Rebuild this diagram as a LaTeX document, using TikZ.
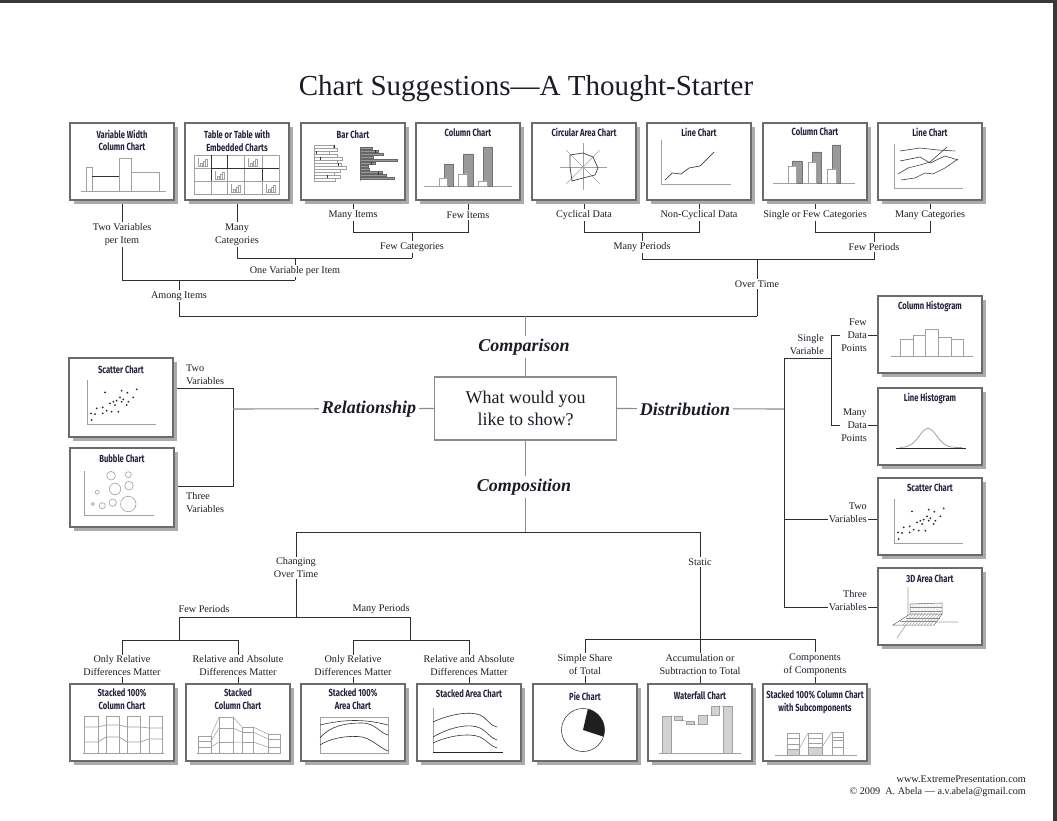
\documentclass[tikz,border=0pt]{standalone}
\usepackage{fontspec}
\setmainfont{Liberation Serif}
\newfontfamily\ctfont[FakeStretch=0.74]{Fira Sans}
\usetikzlibrary{shadows}
\definecolor{txt}{HTML}{1C1C26}
\definecolor{ctc}{HTML}{22223E}
\definecolor{bord}{HTML}{6B6B6B}
\definecolor{shd}{HTML}{ABABAB}
\definecolor{lnk}{HTML}{2E2E2E}
\definecolor{glnk}{HTML}{8C8C8C}
\definecolor{minig}{HTML}{A0A0A0}
\definecolor{edgebar}{HTML}{36383C}
\definecolor{lgfill}{HTML}{D2D2D2}
\definecolor{dgfill}{HTML}{9A9A9A}
\pgfdeclarelayer{bg}
\pgfsetlayers{bg,main}
\tikzset{
 cbox/.style={draw=bord, line width=1.1pt, fill=white, minimum width=104pt, minimum height=77pt, anchor=north west, inner sep=0pt, outer sep=0pt,
   drop shadow={shadow xshift=4pt, shadow yshift=-4pt, fill=shd, opacity=1}},
 ctitle/.style={font=\ctfont\bfseries\fontsize{10.3}{12.8}\selectfont, text=ctc, align=center, inner sep=0pt},
 lab/.style={font=\fontsize{10.2}{13}\selectfont, text=txt, align=center, inner sep=1.2pt, fill=white},
 labn/.style={font=\fontsize{10.2}{13}\selectfont, text=txt, inner sep=0pt},
 big/.style={font=\bfseries\itshape\fontsize{18}{21}\selectfont, text=txt, fill=white, inner sep=2.5pt},
 link/.style={draw=lnk, line width=0.9pt},
 glink/.style={draw=glnk, line width=1.1pt},
 mini/.style={draw=minig, line width=0.7pt},
 minik/.style={draw=black!80, line width=0.7pt},
 sdot/.style={fill=black!85},
 minicol/.pic={
   \draw[mini, line width=0.45pt] (0,0)--(10,0) (0.5,0)--(0.5,-8);
   \draw[mini, line width=0.45pt] (2,0) rectangle (4,-3) (5,0) rectangle (7,-5) (7,0) rectangle (9,-7);
 },
}
\newcommand\scatpts{%
  \foreach \px/\py in {91.7/420,91/413.3,95/414,96.7/408.3,102.7/407.3,102.7/413.3,105/392.3,106.7/410.7,110/403.3,111.7/411.7,113.3/401.7,115/405,116.7/400.7,118.3/411.7,120/397.3,121.7/390.7,121.7/401.7,123.3/399.3,126.7/405,127.3/392.7,128.3/401.7,133.3/397.3,136.7/389.3}
    \fill[sdot] (\px,\py) circle (1.0);
  \draw[mini] (87,380)--(87,424)--(156,424);
}
\begin{document}
\begin{tikzpicture}[x=1pt,y=-1pt]
\useasboundingbox (0,0) rectangle (1057,821);
\begin{pgfonlayer}{bg}
\fill[white] (0,0) rectangle (1057,821);
\fill[edgebar] (0,0) rectangle (1057,3);
\fill[edgebar] (1053,0) rectangle (1057,821);
\end{pgfonlayer}

% title
\node[font=\fontsize{29}{34}\selectfont, text=txt, inner sep=0pt] (title) at (526,89) {Chart Suggestions—A Thought-Starter};

% ---------- top row boxes
\node[cbox] (bVW) at (70,123) {};
\node[cbox] (bTab) at (185,123) {};
\node[cbox] (bBar) at (301,123) {};
\node[cbox] (bCol) at (416,123) {};
\node[cbox] (bCirc) at (532,123) {};
\node[cbox] (bLine) at (647,123) {};
\node[cbox] (bColB) at (763,123) {};
\node[cbox] (bLineB) at (878,123) {};
\node[ctitle] (tVW) at (122,140.5) {Variable Width\\Column Chart};
\node[ctitle] (tTab) at (237,141) {Table or Table with\\Embedded Charts};
\node[ctitle] (tBar) at (353,135) {Bar Chart};
\node[ctitle] (tCol) at (468,133) {Column Chart};
\node[ctitle] (tCirc) at (584,132) {Circular Area Chart};
\node[ctitle] (tLine) at (699,132) {Line Chart};
\node[ctitle] (tColB) at (815,132) {Column Chart};
\node[ctitle] (tLineB) at (930,132) {Line Chart};

% mini: variable width
\draw[mini] (81,191) -- (166,191);
\draw[mini, fill=white] (86,191) rectangle (92,167);
\draw[mini, fill=white] (119,191) rectangle (131,158);
\draw[mini, fill=white] (131,191) rectangle (159,172);
\draw[minik] (92,176) -- (119,176);
% mini: table
\draw[mini] (194,155) rectangle (279,194);
\foreach \gx in {211,227,244,262} \draw[mini] (\gx,155)--(\gx,194);
\foreach \gy in {168,181} \draw[mini] (194,\gy)--(279,\gy);
\draw[minik, line width=0.6pt] (211,155)--(211,181) (227,155)--(227,168) (211,168)--(279,168) (262,168)--(262,181);
\pic at (198,166) {minicol};
\pic at (248,166) {minicol};
\pic at (215,179) {minicol};
\pic at (231,192) {minicol};
\pic at (266,192) {minicol};
% mini: bar chart
\draw[mini] (314,145)--(314,182);
\foreach \i/\l in {0/333,1/337,2/329,3/337,4/342,5/337,6/341,7/346,8/340,9/334,10/340,11/335}
  \draw[mini, fill=white, line width=0.5pt] (314,145.5+\i*3) rectangle (\l,147.8+\i*3);
\draw[minik] (334,145.5)--(334,148.5) (316,151)--(316,154) (320,157)--(320,160) (338,163)--(338,166) (327,175)--(327,178);
\draw[mini] (360,147)--(360,181);
\foreach \i/\l in {0/372,1/378,2/383,3/373,4/397,5/375,6/368,7/369,8/382,9/386,10/394}
  \draw[draw=black!60, fill=dgfill, line width=0.4pt] (360,147.3+\i*3) rectangle (\l,149.6+\i*3);
\draw[minik] (375,150)--(375,153) (371,162)--(371,165) (378,172)--(378,175);
% mini: column chart
\draw[mini] (424,186)--(512,186);
\draw[draw=black!55, fill=dgfill, line width=0.5pt] (444,164) rectangle (453,186) (463,154) rectangle (473,186) (483,147) rectangle (492,186);
\draw[mini, fill=white] (439,178) rectangle (447,186) (458,174) rectangle (467,186) (478,181) rectangle (487,186);
% mini: circular area
\foreach \a in {0,45,...,315} \draw[mini, line width=0.6pt] (583,167) -- ++(\a:23.5);
\draw[black!75, line width=0.7pt] (570,155)--(583,153)--(593,157)--(598,168)--(595,175)--(583,178)--(572,181)--(570,167)--cycle;
% mini: line chart
\draw[mini] (661,140)--(661,184)--(731,184);
\draw[black!75, line width=0.7pt] (665,180)--(672,173)--(681,174)--(689,168)--(700,166)--(714,152);
% mini: column chart B
\draw[mini] (773,183)--(855,183);
\draw[draw=black!55, fill=dgfill, line width=0.5pt] (792,161) rectangle (802,183) (812,152) rectangle (821,183) (832,145) rectangle (840,183);
\draw[mini, fill=white] (788,166) rectangle (796,183) (808,162) rectangle (816,183) (827,169) rectangle (836,183);
% mini: line chart B
\draw[mini] (894,144)--(894,188)--(963,188);
\draw[black!75, line width=0.6pt] (900,151)--(920,148)--(938,150)--(955,151);
\draw[black!75, line width=0.6pt] (900,161)--(920,157)--(930,163)--(945,156)--(958,160);
\draw[black!75, line width=0.6pt] (898,174)--(908,168)--(920,165)--(930,162)--(947,147);
\draw[black!75, line width=0.6pt] (901,180)--(915,178)--(925,173)--(933,174)--(945,168)--(958,159);

% ---------- center
\node[draw=glnk, line width=1.1pt, fill=white, minimum width=182pt, minimum height=63pt, align=center, font=\fontsize{18}{22}\selectfont, text=txt, inner sep=0pt] (q) at (525.5,408.5) {What would you\\like to show?};
\node[big] (lComp) at (524,347) {Comparison};
\node[big] (lRel) at (369,409) {Relationship};
\node[big] (lDist) at (685,409) {Distribution};
\node[big] (lCpos) at (524,487) {Composition};

% ---------- relationship
\node[cbox, minimum height=79pt] (bSc) at (69,358) {};
\node[cbox, minimum height=79pt] (bBub) at (70,448) {};
\node[ctitle] (tSc) at (121,370) {Scatter Chart};
\node[ctitle] (tBub) at (122,459) {Bubble Chart};
\scatpts
\draw[mini] (84,471)--(84,515)--(154,515);
\foreach \bx/\by/\br in {111/475.7/4.3,128.3/474.7/3,115/489/5.7,129/485.7/4.3,97.3/492.3/2,92.7/504/1.7,102.3/505.7/3,112.7/502.7/3.7,128.3/504/7.7}
  \draw[mini, line width=0.6pt] (\bx,\by) circle (\br);
\node[labn, align=left, anchor=west] (lTwoR) at (186,374.5) {Two\\Variables};
\node[labn, align=left, anchor=west] (lThreeR) at (186,502.5) {Three\\Variables};

% ---------- distribution
\node[cbox] (bColH) at (878,296) {};
\node[cbox] (bLineH) at (878,388) {};
\node[cbox] (bSc2) at (878,478) {};
\node[cbox] (bArea) at (878,568) {};
\node[ctitle] (tColH) at (930,306) {Column Histogram};
\node[ctitle] (tLineH) at (930,398) {Line Histogram};
\node[ctitle] (tSc2) at (930,488) {Scatter Chart};
\node[ctitle] (tArea) at (930,579) {3D Area Chart};
\draw[mini] (891,356)--(973,356);
\draw[mini, fill=white] (900,339.3) rectangle (913,356) (913,335) rectangle (925,356) (925,329.3) rectangle (938,356) (938,337.3) rectangle (951,356) (951,339.3) rectangle (963,356);
\draw[black!85, line width=0.8pt] (896,448)--(966,448);
\draw[minig, line width=0.8pt] plot[domain=900:962, samples=60, smooth] (\x, {447.5-19*exp(-((\x-928)/12.5)*((\x-928)/12.5))});
\begin{scope}[shift={(807,119)}]
\scatpts
\end{scope}
% 3D area
\draw[mini, line width=0.6pt] (908,587)--(908,622)--(958,622) (908,622)--(897,638);
\draw[black!60, fill=white, line width=0.5pt] (910,604)--(942,603)--(942,614)--(910,614)--cycle;
\draw[black!60, fill=white, line width=0.5pt] (910,614)--(942,614)--(934,625)--(893,625)--cycle;
\foreach \mx in {913,916,...,940} \draw[black!45, line width=0.3pt] (\mx,603.7)--(\mx,614) -- (\mx-10,625);
\foreach \my in {607.5,611} \draw[black!45, line width=0.3pt] (910,\my)--(942,\my);
\draw[black!45, line width=0.3pt] (905.5,617.7)--(939.6,617.7) (900,621.3)--(936.8,621.3);
\node[labn, align=right, anchor=east] (lSV) at (824,344.5) {Single\\Variable};
\node[lab, align=right, anchor=east, inner sep=1pt] (lFew) at (868,335) {Few\\Data\\Points};
\node[lab, align=right, anchor=east, inner sep=1pt] (lMany) at (868,425) {Many\\Data\\Points};
\node[lab, align=right, anchor=east, inner sep=1pt] (lTwoV) at (868,512.5) {Two\\Variables};
\node[lab, align=right, anchor=east, inner sep=1pt] (lThreeV) at (868,600.5) {Three\\Variables};

% ---------- composition
\node[cbox] (bS100C) at (70,684) {};
\node[cbox] (bStC) at (186,684) {};
\node[cbox] (bS100A) at (301,684) {};
\node[cbox] (bStA) at (417,684) {};
\node[cbox] (bPie) at (533,684) {};
\node[cbox] (bWat) at (648,684) {};
\node[cbox] (bS100S) at (763,684) {};
\node[ctitle] (tS100C) at (122,699.5) {Stacked 100\%\\Column Chart};
\node[ctitle] (tStC) at (238,699.5) {Stacked\\Column Chart};
\node[ctitle] (tS100A) at (353,699.5) {Stacked 100\%\\Area Chart};
\node[ctitle] (tStA) at (469,694) {Stacked Area Chart};
\node[ctitle] (tPie) at (585,696) {Pie Chart};
\node[ctitle] (tWat) at (700,696) {Waterfall Chart};
\node[ctitle] (tS100S) at (815,702.5) {Stacked 100\% Column Chart\\with Subcomponents};
% stacked 100% column
\draw[mini] (83,753)--(164,753);
\draw[mini] (84,716) rectangle (98,753) (106,716) rectangle (119,753) (127,716) rectangle (140,753) (149,716) rectangle (162,753);
\draw[mini] (84,727)--(98,727)--(106,725)--(119,725)--(127,727)--(140,727)--(149,728)--(162,728);
\draw[mini] (84,742)--(98,742)--(106,737)--(119,737)--(127,742)--(140,742)--(149,739)--(162,739);
% stacked column
\draw[mini] (197,753)--(281,753);
\draw[mini] (198,736) rectangle (211,753) (219,717) rectangle (233,753) (242,727) rectangle (253,753) (268,734) rectangle (280,753);
\draw[mini] (198,741)--(211,741) (198,747)--(211,747) (219,728)--(233,728) (219,742)--(233,742) (242,732)--(253,732) (242,742)--(253,742) (268,739)--(280,739) (268,747)--(280,747);
\draw[mini, line width=0.5pt] (211,736)--(219,717) (211,741)--(219,728) (211,747)--(219,742) (233,717)--(242,727) (233,728)--(242,732) (233,742)--(242,742) (253,727)--(268,734) (253,732)--(268,739) (253,742)--(268,747);
% stacked 100% area
\draw[mini] (320,717) rectangle (388,753);
\draw[black!80, line width=0.6pt] (320,725) .. controls (345,719) and (365,719) .. (388,725);
\draw[black!80, line width=0.6pt] (320,738) .. controls (330,726) and (345,723) .. (362,723) .. controls (375,723) and (380,733) .. (388,735);
\draw[black!80, line width=0.6pt] (320,745) .. controls (330,738) and (350,735) .. (362,737) .. controls (372,739) and (380,748) .. (388,751);
% stacked area
\draw[mini] (433,708)--(433,752);
\draw[black!85, line width=0.8pt] (433,752)--(503,752);
\draw[black!80, line width=0.6pt] (433,722) .. controls (450,714) and (470,711) .. (480,715) .. controls (488,719) and (490,726) .. (497,727);
\draw[black!80, line width=0.6pt] (433,737) .. controls (450,727) and (470,723) .. (480,728) .. controls (488,732) and (490,738) .. (497,740);
\draw[black!80, line width=0.6pt] (433,743) .. controls (450,735) and (470,733) .. (480,737) .. controls (488,741) and (490,746) .. (497,748);
% pie
\draw[black!75, line width=0.6pt, fill=white] (583,730) circle (21.5);
\fill[black!88] (583,730) -- ++(-77:21.5) arc[start angle=-77, end angle=18, radius=21.5] -- cycle;
% waterfall
\draw[mini] (659,753)--(741,753);
\draw[draw=minig, fill=lgfill, line width=0.5pt] (662,716) rectangle (671,753) (674,716) rectangle (682,720) (686,721) rectangle (694,724) (698,715) rectangle (707,724) (711,706) rectangle (719,715) (723,706) rectangle (732,753);
\draw[black!80, line width=0.5pt, densely dotted] (671,716)--(674,716) (682,720)--(686,721) (694,724)--(698,724) (707,715)--(711,715) (719,706)--(723,706);
% stacked 100% with subcomponents
\draw[mini] (775,755)--(857,755);
\draw[draw=minig, fill=lgfill, line width=0.5pt] (787,749) rectangle (799,755) (808,747) rectangle (822,755);
\draw[mini, line width=0.6pt] (787,733) rectangle (799,755) (808,733) rectangle (822,755) (832,732) rectangle (843,755);
\draw[mini, line width=0.5pt] (787,738)--(799,738) (787,744)--(799,744) (808,738)--(822,738) (808,743)--(822,743) (832,737)--(843,737) (832,740)--(843,740) (832,747)--(843,747);
\draw[mini, line width=0.5pt] (799,749)--(808,733) (822,747)--(832,732);

% ---------- labels
\node[lab] (lTVI) at (122,234.5) {Two Variables\\per Item};
\node[lab] (lMC) at (237,234.5) {Many\\Categories};
\node[lab] (lMI) at (353,215) {Many Items};
\node[lab] (lFI) at (468,215) {Few Items};
\node[lab] (lFC) at (412,247) {Few Categories};
\node[lab] (lOV) at (295,271) {One Variable per Item};
\node[lab] (lAI) at (179,296) {Among Items};
\node[lab] (lCD) at (584,215) {Cyclical Data};
\node[lab] (lNCD) at (699,215) {Non-Cyclical Data};
\node[lab] (lSFC) at (815,215) {Single or Few Categories};
\node[lab] (lMCat) at (930,215) {Many Categories};
\node[lab] (lMP) at (642,247) {Many Periods};
\node[lab] (lFP) at (874,247) {Few Periods};
\node[lab] (lOT) at (757,284) {Over Time};
\node[lab] (lCOT) at (296,568) {Changing\\Over Time};
\node[lab] (lSt) at (700,562) {Static};
\node[labn] (lFPb) at (204,609) {Few Periods};
\node[labn] (lMPb) at (381,609) {Many Periods};
\node[lab] (lOR1) at (122,666) {Only Relative\\Differences Matter};
\node[lab] (lRA1) at (238,666) {Relative and Absolute\\Differences Matter};
\node[lab] (lOR2) at (353,666) {Only Relative\\Differences Matter};
\node[lab] (lRA2) at (469,666) {Relative and Absolute\\Differences Matter};
\node[lab] (lSS) at (585,664.5) {Simple Share\\of Total};
\node[lab] (lAcc) at (700,664.5) {Accumulation or\\Subtraction to Total};
\node[lab] (lCC) at (815,664.5) {Components\\of Components};

% footer
\node[labn, anchor=east] (fw) at (1026,779) {www.ExtremePresentation.com};
\node[labn, anchor=east] (fc) at (1026,792) {© 2009\enspace A. Abela — a.v.abela@gmail.com};

% ---------- connectors
\begin{pgfonlayer}{bg}
\coordinate (jOne) at (295,258);
\coordinate (jOneB) at (295,280);
\coordinate (jAmong) at (179,280);
\coordinate (jAmongB) at (179,316);
\coordinate (jFewCat) at (412,232);
\coordinate (jFewCatB) at (412,258);
\coordinate (jMP) at (642,232);
\coordinate (jMPB) at (642,259);
\coordinate (jFP) at (874,232);
\coordinate (jFPB) at (874,259);
\coordinate (jOT) at (757,259);
\coordinate (jOTB) at (757,316);
\coordinate (jC) at (525.5,316);
\draw[link] (bVW.south) |- (jOneB);
\draw[link] (bTab.south) |- (jFewCatB);
\draw[link] (jOne) -- (jOneB);
\draw[link] (bBar.south) |- (jFewCat);
\draw[link] (bCol.south) |- (jFewCat);
\draw[link] (jFewCat) -- (jFewCatB);
\draw[link] (jAmong) -- (jAmongB) -- (jOTB);
\draw[link] (bCirc.south) |- (jMP);
\draw[link] (bLine.south) |- (jMP);
\draw[link] (bColB.south) |- (jFP);
\draw[link] (bLineB.south) |- (jFP);
\draw[link] (jMP) -- (jMPB) -- (jFPB) -- (jFP);
\draw[link] (jOT) -- (jOTB);
\draw[glink] (jC) -- (q.north);
% relationship
\coordinate (rT) at (233,388);
\coordinate (rB) at (233,486);
\coordinate (rM) at (233,409);
\draw[link] (bSc.east |- rT) -- (rT) -- (rB) -- (bBub.east |- rB);
\draw[glink] (q.west) -- (rM);
% distribution
\coordinate (dT) at (784,358);
\coordinate (dB) at (784,607);
\coordinate (dM) at (784,409);
\coordinate (dTwo) at (784,519);
\coordinate (sT) at (831,335);
\coordinate (sB) at (831,425);
\coordinate (sM) at (831,358);
\draw[glink] (q.east) -- (dM);
\draw[link] (dT) -- (dB) -- (bArea.west |- dB);
\draw[link] (dTwo) -- (bSc2.west |- dTwo);
\draw[link] (dT) -- (sM);
\draw[link] (sT) -- (sB);
\draw[link] (sT) -- (bColH.west |- sT);
\draw[link] (sB) -- (bLineH.west |- sB);
% composition
\coordinate (kT) at (525.5,532);
\coordinate (kL) at (296,532);
\coordinate (kR) at (700,532);
\coordinate (kL2) at (296,617);
\coordinate (kFP) at (179,617);
\coordinate (kMP) at (410,617);
\coordinate (kFP2) at (179,640);
\coordinate (kMP2) at (410,640);
\coordinate (kS) at (700,639);
\draw[glink] (q.south) -- (kT);
\draw[link] (kL) -- (kR);
\draw[link] (kL) -- (kL2);
\draw[link] (kFP) -- (kMP);
\draw[link] (kFP) -- (kFP2);
\draw[link] (kMP) -- (kMP2);
\draw[link] (bS100C.north) |- (kFP2);
\draw[link] (bStC.north) |- (kFP2);
\draw[link] (bS100A.north) |- (kMP2);
\draw[link] (bStA.north) |- (kMP2);
\draw[link] (kR) -- (kS);
\draw[link] (bPie.north) |- (kS);
\draw[link] (bWat.north) -- (kS);
\draw[link] (bS100S.north) |- (kS);
\end{pgfonlayer}
\end{tikzpicture}
\end{document}
